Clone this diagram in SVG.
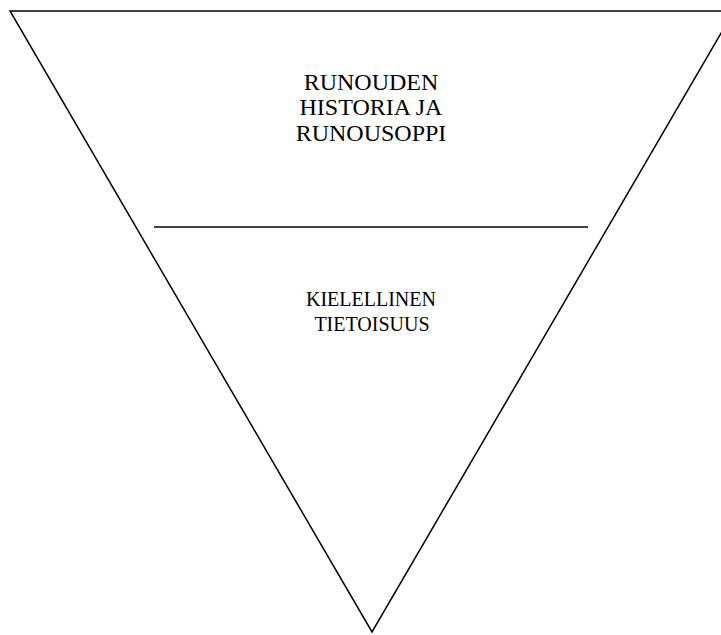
<svg xmlns="http://www.w3.org/2000/svg" width="721" height="635" viewBox="0 0 721 635">
<style>
.ln{fill:none;stroke:#000;stroke-width:1.5}
.t{font-family:"Liberation Serif","Times New Roman",serif;font-size:20px;fill:#000;text-anchor:middle}
.big{font-size:24px}
</style>
<rect width="721" height="635" fill="#fff"/>
<g id="shapes">
<polygon id="triangle" class="ln" points="10,11 734,11 372,632"/>
<line id="divider" class="ln" x1="154" y1="227" x2="588" y2="227"/>
</g>
<g id="top-label">
<text class="t big" x="371" y="90">RUNOUDEN</text>
<text class="t big" x="371" y="115">HISTORIA JA</text>
<text class="t big" x="371" y="141">RUNOUSOPPI</text>
</g>
<g id="bottom-label">
<text class="t" x="371" y="306">KIELELLINEN</text>
<text class="t" x="372" y="331">TIETOISUUS</text>
</g>
</svg>
